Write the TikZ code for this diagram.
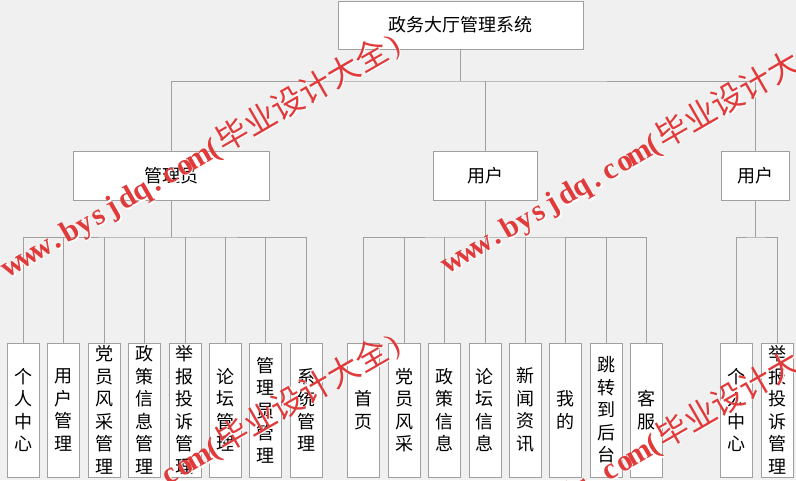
\documentclass[tikz,border=0pt]{standalone}
\usepackage{fontspec}
\setmainfont{Liberation Serif}
\newfontfamily\cjk{Noto Sans CJK SC}
\definecolor{bgc}{HTML}{F0F0F0}
\definecolor{lineg}{HTML}{A0A0A0}
\definecolor{wmred}{HTML}{E03A3A}
\newcommand\hw[1]{\makebox[16.5pt][c]{#1}}
\newcommand\wmark{\fontsize{30}{30}\selectfont{\bfseries\hw{w}\hw{w}\hw{w}\hw{.}\hw{b}\hw{y}\hw{s}\hw{j}\hw{d}\hw{q}\hw{.}\hw{c}\hw{o}\hw{m}\hw{(}}{\cjk\mdseries\fontsize{32}{32}\selectfont 毕业设计大全}\hw{)}}
\tikzset{
  box/.style={draw=lineg, fill=white, line width=0.8pt, inner sep=0pt, font=\cjk\fontsize{18}{22.5}\selectfont},
  vbox/.style={box, minimum width=32pt, minimum height=134pt, align=center},
  conn/.style={draw=lineg, line width=0.8pt},
  wm/.style={text=wmred, inner sep=0pt, anchor=base west, rotate=30},
  wmshade/.style={text=white, inner sep=0pt, anchor=base west, rotate=30}
}
\begin{document}
\begin{tikzpicture}[x=1pt,y=-1pt]
\useasboundingbox (0,0) rectangle (796,480);
\clip (0,0) rectangle (796,480);
\fill[bgc] (0,0) rectangle (796,480);

% level 1
\node[box, minimum width=245pt, minimum height=48pt] (root) at (460.5,25) {政务大厅管理系统};
% level 2
\node[box, minimum width=196pt, minimum height=49pt] (adm) at (171,175.5) {管理员};
\node[box, minimum width=104pt, minimum height=49pt] (usr1) at (485,175.5) {用户};
\node[box, minimum width=68pt, minimum height=49pt] (usr2) at (755,175.5) {用户};

% level 3 admin
\node[vbox] (a1) at (23.3,410) {个\\人\\中\\心};
\node[vbox] (a2) at (63.7,410) {用\\户\\管\\理};
\node[vbox] (a3) at (104.1,410) {党\\员\\风\\采\\管\\理};
\node[vbox] (a4) at (144.5,410) {政\\策\\信\\息\\管\\理};
\node[vbox] (a5) at (184.9,410) {举\\报\\投\\诉\\管\\理};
\node[vbox] (a6) at (225.3,410) {论\\坛\\管\\理};
\node[vbox] (a7) at (265.7,410) {管\\理\\员\\管\\理};
\node[vbox] (a8) at (306.1,410) {系\\统\\管\\理};
% level 3 user
\node[vbox] (u1) at (363.7,410) {首\\页};
\node[vbox] (u2) at (404.1,410) {党\\员\\风\\采};
\node[vbox] (u3) at (444.5,410) {政\\策\\信\\息};
\node[vbox] (u4) at (484.9,410) {论\\坛\\信\\息};
\node[vbox] (u5) at (525.3,410) {新\\闻\\资\\讯};
\node[vbox] (u6) at (565.7,410) {我\\的};
\node[vbox] (u7) at (606.1,410) {跳\\转\\到\\后\\台};
\node[vbox] (u8) at (646.5,410) {客\\服};
% level 3 right user
\node[vbox] (r1) at (736.5,410) {个\\人\\中\\心};
\node[vbox] (r2) at (777,410) {举\\报\\投\\诉\\管\\理};

% connectors level 1-2
\coordinate (b1) at (460.5,81);
\draw[conn] (root.south) -- (b1);
\draw[conn] (adm.north) |- (b1) -| (usr2.north);
\draw[conn] (usr1.north) -- (usr1.north |- b1);

% connectors admin
\coordinate (ba) at (171,237);
\draw[conn] (adm.south) -- (ba);
\draw[conn] (a1.north) |- (ba) -| (a8.north);
\foreach \n in {a2,a3,a4,a5,a6,a7} \draw[conn] (\n.north) -- (\n.north |- ba);
% connectors user
\coordinate (bu) at (485,237);
\draw[conn] (usr1.south) -- (bu);
\draw[conn] (u1.north) |- (bu) -| (u8.north);
\foreach \n in {u2,u3,u4,u5,u6,u7} \draw[conn] (\n.north) -- (\n.north |- bu);
% connectors right user
\coordinate (br) at (755,237);
\draw[conn] (usr2.south) -- (br);
\draw[conn] (r1.north) |- (br) -| (r2.north);

% watermarks
\foreach \wx/\wy in {10/277,450/273,10/577,450/573}{
  \node[wmshade] at (\wx+1.3,\wy+1.3) {\wmark};
  \node[wm] at (\wx,\wy) {\wmark};
}
\end{tikzpicture}
\end{document}
